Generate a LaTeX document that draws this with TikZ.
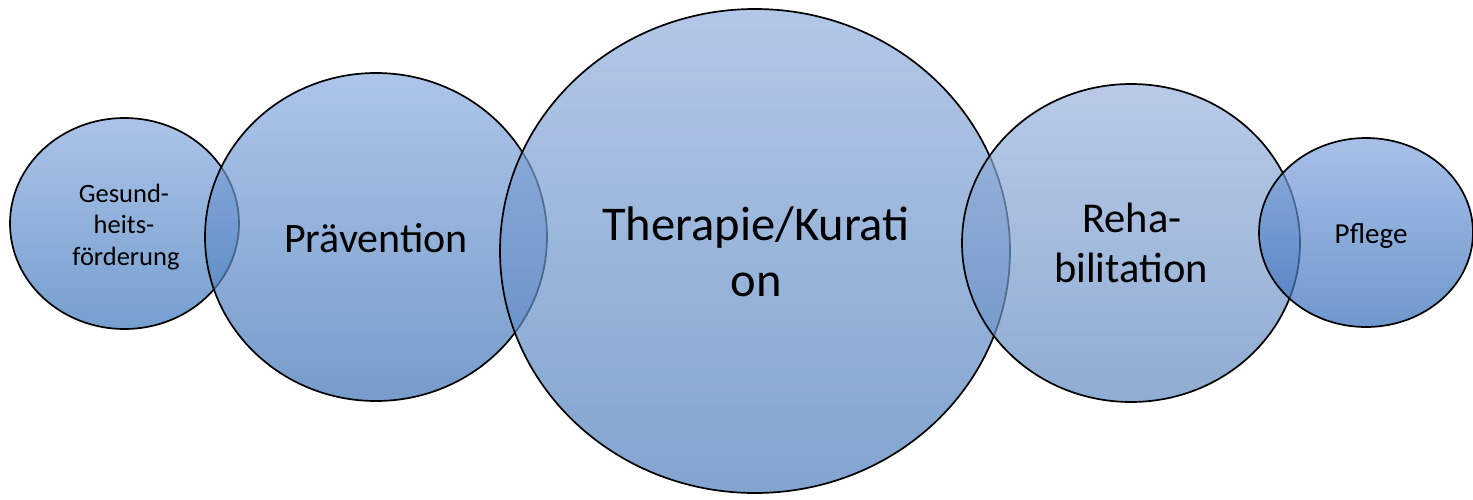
\documentclass[tikz,border=0pt]{standalone}
\usepackage{fontspec}
\setmainfont{Carlito}
\usetikzlibrary{shapes.geometric}

% fill colours of the five stages (top / bottom of each gradient)
\definecolor{gA}{RGB}{136,170,222}\definecolor{gAb}{RGB}{58,117,186}
\definecolor{gB}{RGB}{138,172,224}\definecolor{gBb}{RGB}{60,114,180}
\definecolor{gC}{RGB}{147,176,222}\definecolor{gCb}{RGB}{76,125,186}
\definecolor{gD}{RGB}{154,179,222}\definecolor{gDb}{RGB}{95,137,190}
\definecolor{gE}{RGB}{130,165,222}\definecolor{gEb}{RGB}{50,108,184}

\tikzset{
  stage/.style={ellipse, inner sep=0pt, draw=black, line width=1.7pt,
    fill opacity=0.7, draw opacity=1},
  lbl/.style={anchor=base, inner sep=0pt, text=black},
}

\begin{document}
\begin{tikzpicture}[x=1pt, y=-1pt]
  \useasboundingbox (0,0) rectangle (1473,499);
  \clip (0,0) rectangle (1473,499);

  % overlapping stage ellipses, drawn left to right
  \node[stage, top color=gA, bottom color=gAb, minimum width=229pt, minimum height=211pt] (ges) at (124.5,223.5) {};
  \node[stage, top color=gB, bottom color=gBb, minimum width=342pt, minimum height=328pt] (prae) at (376,237) {};
  \node[stage, top color=gC, bottom color=gCb, minimum width=510pt, minimum height=484pt] (ther) at (755,251) {};
  \node[stage, top color=gD, bottom color=gDb, minimum width=338pt, minimum height=318pt] (reha) at (1131,243) {};
  \node[stage, top color=gE, bottom color=gEb, minimum width=214pt, minimum height=189pt] (pfl) at (1366,232.5) {};

  % labels
  \begin{scope}[every node/.append style={lbl}]
    \node[font=\fontsize{26.5}{30}\selectfont] (ges1) at (124,202) {Gesund-};
    \node[font=\fontsize{26.5}{30}\selectfont] (ges2) at (124,233) {heits-};
    \node[font=\fontsize{26.5}{30}\selectfont] (ges3) at (126,265) {förderung};
    \node[font=\fontsize{42}{48}\selectfont] (praeT) at (376,252) {Prävention};
    \node[font=\fontsize{48.5}{56}\selectfont] (ther1) at (756,240) {Therapie/Kurati};
    \node[font=\fontsize{48.5}{56}\selectfont] (ther2) at (756,296) {on};
    \node[font=\fontsize{42.5}{48}\selectfont] (reha1) at (1132,232) {Reha-};
    \node[font=\fontsize{42.5}{48}\selectfont] (reha2) at (1131,282) {bilitation};
    \node[font=\fontsize{29}{32}\selectfont] (pflT) at (1371,243) {Pflege};
  \end{scope}
\end{tikzpicture}
\end{document}
